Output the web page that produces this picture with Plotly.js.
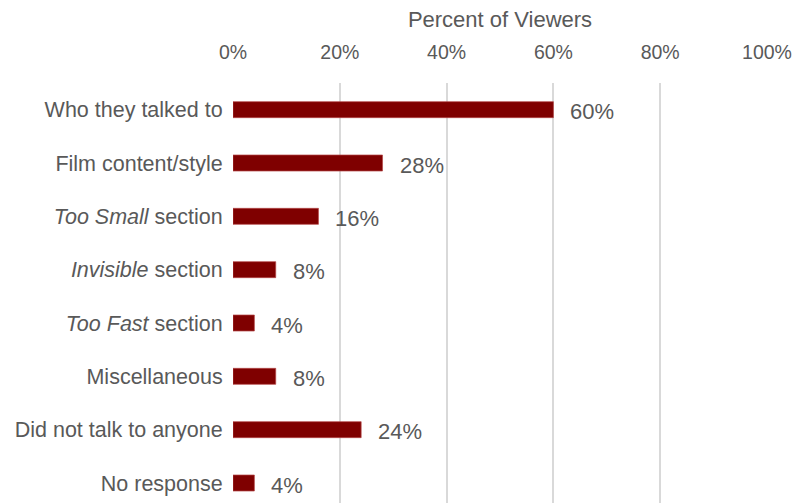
<!DOCTYPE html>
<html>
<head>
<meta charset="utf-8">
<script src="https://cdn.plot.ly/plotly-3.0.1.min.js"></script>
<style>html,body{margin:0;padding:0;background:#fff;}#chart{width:804px;height:503px;}</style>
</head>
<body>
<div id="chart"></div>
<script>
var categories = [
  "Who they talked to",
  "Film content/style",
  "<i>Too Small</i> section",
  "<i>Invisible</i> section",
  "<i>Too Fast</i> section",
  "Miscellaneous",
  "Did not talk to anyone",
  "No response"
];
var percents = [60, 28, 16, 8, 4, 8, 24, 4];
var tickValues = [0, 20, 40, 60, 80, 100];
var tickLabels = ["0%", "20%", "40%", "60%", "80%", "100%"];

var FONT = "Liberation Sans, Arial, sans-serif";
var TXT = "#595959";

var trace = {
  type: "bar",
  orientation: "h",
  x: percents,
  y: categories,
  width: 0.3,
  marker: {color: "#7f0000", line: {color: "rgba(180,70,70,0.7)", width: 1}},
  hoverinfo: "none"
};

var annotations = percents.map(function (v, i) {
  return {
    x: v, y: categories[i], xref: "x", yref: "y",
    text: v + "%", showarrow: false,
    xanchor: "left", yanchor: "middle",
    xshift: 15, yshift: -2,
    font: {family: FONT, size: 22, color: TXT}
  };
});

var layout = {
  width: 804, height: 503,
  margin: {l: 233, r: 37, t: 83, b: 0, pad: 0},
  paper_bgcolor: "#fff", plot_bgcolor: "#fff",
  showlegend: false,
  font: {family: FONT, color: TXT},
  xaxis: {
    side: "top",
    range: [0, 100],
    tickvals: tickValues,
    ticktext: tickLabels,
    tickfont: {family: FONT, size: 19.5, color: TXT},
    ticks: "outside", ticklen: 15, tickcolor: "rgba(0,0,0,0)",
    showgrid: true, gridcolor: "#d9d9d9", gridwidth: 2,
    zeroline: false, showline: false,
    title: {text: "Percent of Viewers", font: {family: FONT, size: 22, color: TXT}, standoff: 7}
  },
  yaxis: {
    type: "category",
    categoryorder: "array",
    categoryarray: categories,
    range: [7.375, -0.5],
    tickfont: {family: FONT, size: 21.5, color: TXT},
    ticks: "outside", ticklen: 5, tickcolor: "rgba(0,0,0,0)",
    showgrid: false, zeroline: false, showline: false
  },
  annotations: annotations
};

Plotly.newPlot("chart", [trace], layout, {staticPlot: true, displayModeBar: false});
</script>
</body>
</html>
